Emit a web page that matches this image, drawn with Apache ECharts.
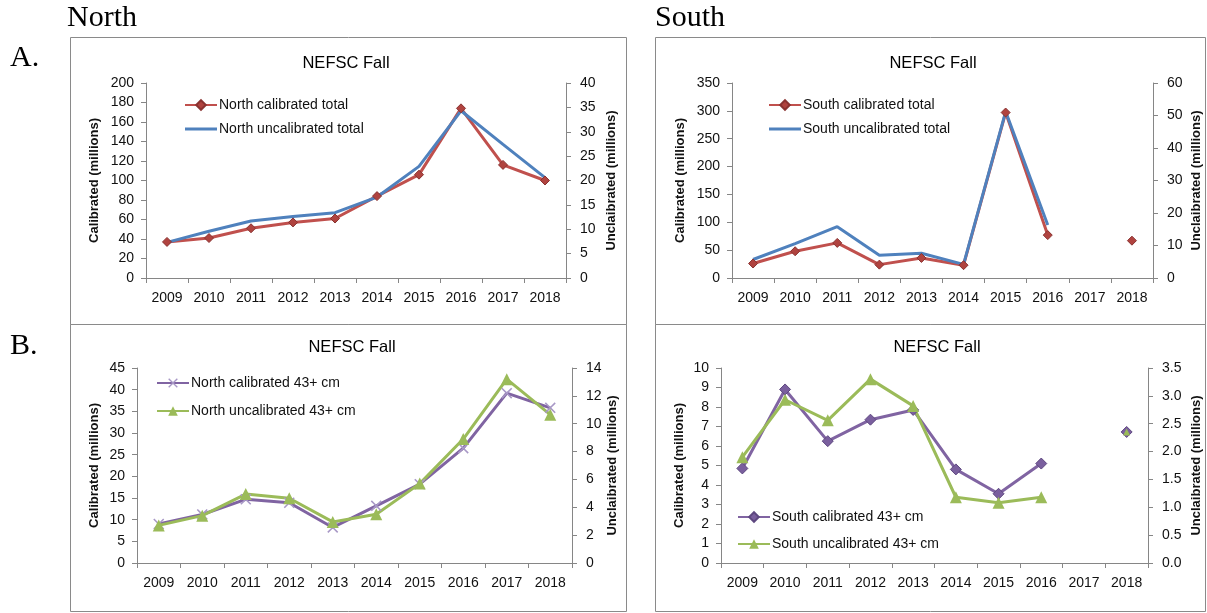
<!DOCTYPE html>
<html>
<head>
<meta charset="utf-8">
<script src="https://cdn.jsdelivr.net/npm/echarts@6/dist/echarts.min.js"></script>
<style>
  html, body { margin: 0; padding: 0; background: #fff; }
  #chart { width: 1207px; height: 613px; }
</style>
</head>
<body>
<div id="chart"></div>
<script>
// data
var years = ['2009', '2010', '2011', '2012', '2013', '2014', '2015', '2016', '2017', '2018'];

var northCalTotal = [37, 41, 51, 57, 61, 84, 106, 174, 116, 100];
var northUncalTotal = [7.3, 9.6, 11.7, 12.6, 13.4, 16.6, 22.9, 34.3, 27.4, 20.6];
var southCalTotal = [26, 48, 63, 24, 36, 23, 297, 77, null, 67];
var southUncalTotal = [5.7, 10.6, 15.8, 7.0, 7.6, 4.2, 51.2, 16.3, null, null];

var northCal43 = [9.0, 11.2, 14.7, 13.9, 8.2, 13.2, 18.2, 26.5, 39.2, 35.8];
var northUncal43 = [2.7, 3.4, 4.95, 4.65, 2.95, 3.5, 5.7, 8.9, 13.2, 10.65];
var southCal43 = [4.85, 8.9, 6.25, 7.35, 7.85, 4.8, 3.55, 5.1, null, 6.72];
var southUncal43 = [1.9, 2.93, 2.56, 3.3, 2.82, 1.18, 1.08, 1.18, null, 2.35];

var FONT = '"Liberation Sans", Arial, sans-serif';
var AXIS_COL = '#868686';
var RED = '#C0504D', BLUE = '#4F81BD', PURPLE = '#8064A2', GREEN = '#9BBB59';
var XMARK = 'path://M0,1 L1,0 L5,4 L9,0 L10,1 L6,5 L10,9 L9,10 L5,6 L1,10 L0,9 L4,5 Z';
var BAR_ICON = 'path://M0,0 L32,0 L32,3 L0,3 Z';

var chart = echarts.init(document.getElementById('chart'));

var grids = [
    { left: 146, top: 83, width: 420, height: 195 },   // north A
    { left: 732, top: 83, width: 421, height: 195 },   // south A
    { left: 137, top: 368, width: 435, height: 195 },  // north B
    { left: 721, top: 368, width: 427, height: 195 }   // south B
];

function xAx(gi) {
    return {
        type: 'category', gridIndex: gi, data: years, boundaryGap: true,
        axisLine: { lineStyle: { color: AXIS_COL, width: 1 } },
        axisTick: { show: true, alignWithLabel: false, length: 5, lineStyle: { color: AXIS_COL } },
        axisLabel: { interval: 0, fontSize: 14, fontFamily: FONT, color: '#111', margin: 13 },
        splitLine: { show: false }
    };
}

function yAx(gi, pos, max, step, name, gap, dec) {
    return {
        type: 'value', gridIndex: gi, position: pos, min: 0, max: max, interval: step,
        name: name, nameLocation: 'middle', nameRotate: 90, nameGap: gap,
        nameTextStyle: { fontSize: 13, fontWeight: 'bold', fontFamily: FONT, color: '#111' },
        axisLine: { show: true, lineStyle: { color: AXIS_COL, width: 1 } },
        axisTick: { show: true, length: 5, lineStyle: { color: AXIS_COL } },
        axisLabel: {
            fontSize: 14, fontFamily: FONT, color: '#111', margin: pos === 'right' ? 14 : 12,
            formatter: function (v) { return dec ? v.toFixed(dec) : String(v); }
        },
        splitLine: { show: false }
    };
}

var calName = 'Calibrated (millions)';
var uncName = 'Unclaibrated (millions)';

var xAxes = [xAx(0), xAx(1), xAx(2), xAx(3)];
var yAxes = [
    yAx(0, 'left', 200, 20, calName, 45, 0),
    yAx(0, 'right', 40, 5, uncName, 39, 0),
    yAx(1, 'left', 350, 50, calName, 45, 0),
    yAx(1, 'right', 60, 10, uncName, 37, 0),
    yAx(2, 'left', 45, 5, calName, 36, 0),
    yAx(2, 'right', 14, 2, uncName, 33, 0),
    yAx(3, 'left', 10, 1, calName, 35, 0),
    yAx(3, 'right', 3.5, 0.5, uncName, 42, 1)
];

function line(name, xi, yi, data, color, symbol, size, fill, border) {
    return {
        name: name, type: 'line', xAxisIndex: xi, yAxisIndex: yi, data: data,
        symbol: symbol, symbolSize: size, connectNulls: false,
        lineStyle: { color: color, width: 3 },
        itemStyle: { color: fill || color, borderColor: border || fill || color, borderWidth: border ? 1 : 0 },
        emphasis: { disabled: true }
    };
}

var series = [
    line('North calibrated total', 0, 0, northCalTotal, RED, 'diamond', 9, '#B0433F', '#8A3331'),
    line('North uncalibrated total', 0, 1, northUncalTotal, BLUE, 'none', 0),
    line('South calibrated total', 1, 2, southCalTotal, RED, 'diamond', 9, '#B0433F', '#8A3331'),
    line('South uncalibrated total', 1, 3, southUncalTotal, BLUE, 'none', 0),
    line('North calibrated 43+ cm', 2, 4, northCal43, PURPLE, XMARK, 11, '#A898C6'),
    line('North uncalibrated 43+ cm', 2, 5, northUncal43, GREEN, 'triangle', 12, GREEN),
    line('South calibrated 43+ cm', 3, 6, southCal43, PURPLE, 'diamond', 11, '#7A5F9E', '#5E4880'),
    line('South uncalibrated 43+ cm', 3, 7, southUncal43, GREEN, 'triangle', 12, GREEN)
];
// the lone 2018 triangle sits small inside the diamond
series[7].symbolSize = function (v, p) { return p.dataIndex === 9 ? 7 : 12; };

function leg(names, left, top, gap, plainSecond) {
    var data = names.slice();
    if (plainSecond) {
        data[1] = { name: names[1], icon: BAR_ICON, itemStyle: { color: BLUE } };
    }
    return {
        data: data, orient: 'vertical', left: left, top: top, itemGap: gap,
        itemWidth: 32, itemHeight: 12, selectedMode: false,
        textStyle: { fontSize: 14, fontFamily: FONT, color: '#111', padding: [0, 0, 0, -3] }
    };
}

var legends = [
    leg(['North calibrated total', 'North uncalibrated total'], 179, 93, 10, true),
    leg(['South calibrated total', 'South uncalibrated total'], 763, 93, 10, true),
    leg(['North calibrated 43+ cm', 'North uncalibrated 43+ cm'], 151, 371, 14),
    leg(['South calibrated 43+ cm', 'South uncalibrated 43+ cm'], 732, 505, 13)
];

function txt(s, x, y, font, align) {
    return {
        type: 'text', x: x, y: y, silent: true,
        style: { text: s, font: font, fill: '#000', textAlign: align || 'left', textVerticalAlign: 'middle' }
    };
}
function box(x, y, w, h) {
    return {
        type: 'rect', silent: true, shape: { x: x + 0.5, y: y + 0.5, width: w, height: h },
        style: { fill: 'none', stroke: '#8a8a8a', lineWidth: 1 }
    };
}

var titleFont = '16.5px ' + FONT;
var serif = '30px "Liberation Serif", "Times New Roman", serif';

var graphics = [
    box(70, 37, 556, 287), box(70, 324, 556, 287),
    box(655, 37, 550, 287), box(655, 324, 550, 287),
    txt('North', 67, 18, serif), txt('South', 655, 18, serif),
    txt('A.', 10, 58, serif), txt('B.', 10, 346, serif),
    txt('NEFSC Fall', 346, 63, titleFont, 'center'),
    txt('NEFSC Fall', 933, 63, titleFont, 'center'),
    txt('NEFSC Fall', 352, 347, titleFont, 'center'),
    txt('NEFSC Fall', 937, 347, titleFont, 'center')
];

chart.setOption({
    animation: false,
    backgroundColor: '#fff',
    grid: grids,
    xAxis: xAxes,
    yAxis: yAxes,
    legend: legends,
    series: series,
    graphic: graphics
});
</script>
</body>
</html>
